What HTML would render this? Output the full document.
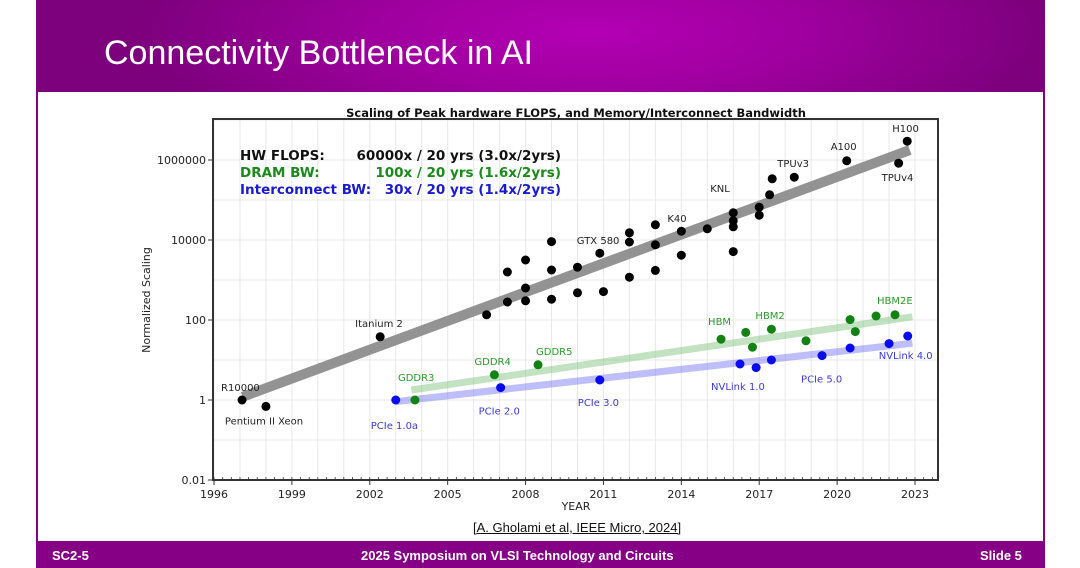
<!DOCTYPE html>
<html><head><meta charset="utf-8"><style>
html,body{margin:0;padding:0;width:1080px;height:568px;overflow:hidden;background:#fff;font-family:"Liberation Sans",sans-serif}
#slide{position:absolute;left:36px;top:0;width:1009px;height:568px;background:#fff;border-left:2px solid #850085;border-right:2px solid #850085;box-sizing:border-box}
#header{position:absolute;left:36px;top:0;width:1009px;height:92px;background:radial-gradient(ellipse 45% 140% at 55% 35%,#b300b3 0%,#a000a0 45%,#7d007d 100%)}
#title{position:absolute;left:104px;top:34px;font-size:34px;color:#fff;font-family:"Liberation Sans",sans-serif}
#footer{position:absolute;left:36px;top:541px;width:1009px;height:27px;background:#850085;color:#fff;font-weight:bold;font-size:13px}
#footer span{position:absolute;top:7px}
#cite{position:absolute;left:473px;top:520px;font-size:13px;color:#111;text-decoration:underline}
svg{position:absolute;left:0;top:0}
</style></head><body>
<div id="slide"></div>
<div id="header"></div>
<div id="title">Connectivity Bottleneck in AI</div>
<svg id="chart" width="1080" height="568"></svg>
<div id="cite">[A. Gholami et al, IEEE Micro, 2024]</div>
<div id="footer">
<span style="left:16px">SC2-5</span>
<span style="left:325px">2025 Symposium on VLSI Technology and Circuits</span>
<span style="left:944px">Slide 5</span>
</div>
<script>
const xTicks=[1996,1999,2002,2005,2008,2011,2014,2017,2020,2023];
const yTicks=[-2,0,2,4,6];
const yTickLabels=["0.01","1","100","10000","1000000"];
const flopsYears=[1997.08,1998.0,2002.4,2006.5,2007.3,2007.3,2008.0,2008.0,2008.0,2009.0,2009.0,2009.0,2010.0,2010.0,2010.86,2011.0,2012.0,2012.0,2012.0,2013.0,2013.0,2013.0,2014.0,2014.0,2015.0,2016.0,2016.0,2016.0,2016.0,2017.0,2017.0,2017.4,2017.5,2018.35,2020.37,2022.37,2022.7];
const flopsLog=[0,-0.16,1.58,2.13,2.45,3.2,3.5,2.8,2.48,3.96,3.25,2.52,3.32,2.68,3.67,2.71,4.18,3.95,3.07,4.38,3.88,3.24,4.22,3.62,4.28,4.68,4.48,4.33,3.71,4.82,4.62,5.13,5.53,5.57,5.98,5.92,6.47];
const dramYears=[2003.74,2006.8,2008.48,2015.53,2016.48,2016.74,2017.47,2018.8,2020.5,2020.7,2021.5,2022.23];
const dramLog=[0,0.63,0.88,1.52,1.69,1.32,1.77,1.48,2.01,1.71,2.1,2.13];
const icYears=[2003.0,2007.04,2010.86,2016.26,2016.88,2017.47,2019.42,2020.5,2022.0,2022.72];
const icLog=[0,0.31,0.5,0.9,0.81,1.0,1.11,1.3,1.41,1.6];
const flopsTrend=[[1997.1,0.08],[2022.8,6.25]];
const dramTrend=[[2003.6,0.25],[2022.9,2.08]];
const icTrend=[[2003.0,-0.04],[2022.9,1.42]];
const ptLabels=[["R10000",1997.08,0,"flops"],["Pentium II Xeon",1998.0,-0.16,"flops"],["Itanium 2",2002.4,1.58,"flops"],["GTX 580",2010.86,3.67,"flops"],["K40",2014.0,4.22,"flops"],["KNL",2016.0,4.68,"flops"],["TPUv3",2018.35,5.57,"flops"],["A100",2020.37,5.98,"flops"],["TPUv4",2022.37,5.92,"flops"],["H100",2022.7,6.47,"flops"],
["GDDR3",2003.74,0,"dram"],["GDDR4",2006.8,0.63,"dram"],["GDDR5",2008.48,0.88,"dram"],["HBM",2015.53,1.52,"dram"],["HBM2",2017.47,1.77,"dram"],["HBM2E",2022.23,2.13,"dram"],
["PCIe 1.0a",2003.0,0,"ic"],["PCIe 2.0",2007.04,0.31,"ic"],["PCIe 3.0",2010.86,0.5,"ic"],["NVLink 1.0",2016.26,0.9,"ic"],["PCIe 5.0",2019.42,1.11,"ic"],["NVLink 4.0",2022.72,1.6,"ic"]];
const labelOffsets={"R10000":[-21,-9],"Pentium II Xeon":[-41,18],"Itanium 2":[-25,-10],"GTX 580":[-23,-9],"K40":[-14,-9],"KNL":[-23,-21],"TPUv3":[-17,-10],"A100":[-16,-11],"TPUv4":[-17,18],"H100":[-15,-9],
"GDDR3":[-17,-19],"GDDR4":[-20,-10],"GDDR5":[-2,-10],"HBM":[-13,-14],"HBM2":[-16,-10],"HBM2E":[-18,-11],
"PCIe 1.0a":[-25,29],"PCIe 2.0":[-22,27],"PCIe 3.0":[-22,26],"NVLink 1.0":[-29,26],"PCIe 5.0":[-21,27],"NVLink 4.0":[-29,23]};
const L=213,R=938,T=119,B=480;
const xs=y=>214+(y-1996)*(701/27);
const ys=v=>400-v*40;
const NS="http://www.w3.org/2000/svg";
const svg=document.getElementById('chart');
function mk(tag,attrs,parent){const e=document.createElementNS(NS,tag);for(const k in attrs)e.setAttribute(k,attrs[k]);(parent||svg).appendChild(e);return e;}
for(let yr=1996;yr<=2023;yr++){const g=mk('line',{x1:xs(yr),x2:xs(yr),y1:T,y2:B,stroke:'#e8e8e8','stroke-width':1});

}
for(let v=-2;v<=7;v++){const g=mk('line',{x1:L,x2:R,y1:ys(v),y2:ys(v),stroke:'#e8e8e8','stroke-width':1});

}
const frame=mk('rect',{x:L,y:T,width:R-L,height:B-T,fill:'none',stroke:'#333','stroke-width':2});


const title=mk('text',{x:576,y:117,'text-anchor':'middle','font-size':11.5,'font-weight':'bold','font-family':'DejaVu Sans, sans-serif',fill:'#111'});
title.textContent='Scaling of Peak hardware FLOPS, and Memory/Interconnect Bandwidth';


for(let yr=1996;yr<=2023.9;yr+=1/3){const t=mk('line',{x1:xs(yr),x2:xs(yr),y1:B,y2:B-3,stroke:'#333','stroke-width':0.8});

}
xTicks.forEach(yr=>{const t=mk('line',{x1:xs(yr),x2:xs(yr),y1:B,y2:B+5,stroke:'#333','stroke-width':1});


const l=mk('text',{x:xs(yr),y:B+18,'text-anchor':'middle','font-size':11,'font-family':'DejaVu Sans, sans-serif',fill:'#222'});l.textContent=yr;

});
yTicks.forEach((v,i)=>{const t=mk('line',{x1:L-5,x2:L,y1:ys(v),y2:ys(v),stroke:'#333','stroke-width':1});


const l=mk('text',{x:L-7,y:ys(v)+4,'text-anchor':'end','font-size':11,'font-family':'DejaVu Sans, sans-serif',fill:'#222'});l.textContent=yTickLabels[i];

});
const xt=mk('text',{x:576,y:510,'text-anchor':'middle','font-size':11,'font-family':'DejaVu Sans, sans-serif',fill:'#222'});xt.textContent='YEAR';


const yt=mk('text',{x:0,y:0,'text-anchor':'middle','font-size':11,'font-family':'DejaVu Sans, sans-serif',fill:'#222',transform:'translate(150,300) rotate(-90)'});yt.textContent='Normalized Scaling';


[[flopsTrend,'rgba(135,135,135,0.9)',10,'flops-trend-line'],[dramTrend,'rgba(120,190,120,0.45)',7,'dram-trend-line'],[icTrend,'rgba(110,110,245,0.45)',7,'interconnect-trend-line']].forEach(([tr,c,w,n])=>{
const ln=mk('line',{x1:xs(tr[0][0]),y1:ys(tr[0][1]),x2:xs(tr[1][0]),y2:ys(tr[1][1]),stroke:c,'stroke-width':w});

});
flopsYears.forEach((y,i)=>{const c=mk('circle',{cx:xs(y),cy:ys(flopsLog[i]),r:4.5,fill:'#000'});

});
dramYears.forEach((y,i)=>{const c=mk('circle',{cx:xs(y),cy:ys(dramLog[i]),r:4.5,fill:'#128212'});

});
icYears.forEach((y,i)=>{const c=mk('circle',{cx:xs(y),cy:ys(icLog[i]),r:4.5,fill:'#0a0aee'});

});
const colors={flops:'#222',dram:'#2a9a2a',ic:'#3a3ae0'};
ptLabels.forEach(([t,y,v,s])=>{const o=labelOffsets[t];
const l=mk('text',{x:xs(y)+o[0],y:ys(v)+o[1],'font-size':10,'font-family':'DejaVu Sans, sans-serif',fill:colors[s]});l.textContent=t;

});
const leg=[["HW FLOPS:","60000x / 20 yrs (3.0x/2yrs)","#111",160],["DRAM BW:","100x / 20 yrs (1.6x/2yrs)","#1a8a1a",177],["Interconnect BW:","30x / 20 yrs (1.4x/2yrs)","#1a1ad0",194]];
leg.forEach(([a,b,c,y])=>{const t1=mk('text',{x:240,y:y,'font-size':13.5,'font-weight':'bold','font-family':'DejaVu Sans, sans-serif',fill:c});t1.textContent=a;


const t2=mk('text',{x:561,y:y,'text-anchor':'end','font-size':13.5,'font-weight':'bold','font-family':'DejaVu Sans, sans-serif',fill:c});t2.textContent=b;

});
</script>
</body></html>
